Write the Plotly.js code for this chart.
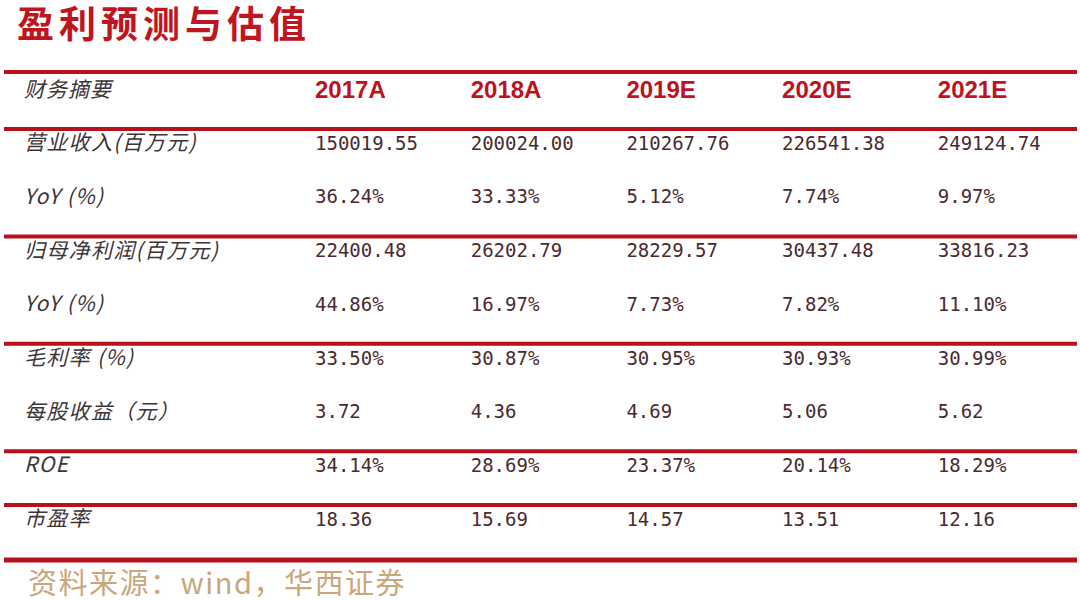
<!DOCTYPE html>
<html>
<head>
<meta charset="utf-8">
<script src="https://cdn.plot.ly/plotly-3.0.1.min.js"></script>
<style>html,body{margin:0;padding:0;background:#fff;}#chart{width:1080px;height:601px;}</style>
</head>
<body>
<div id="chart"></div>
<script>
// ---- data ----
const titleText = '盈利预测与估值';
const headerLabel = '财务摘要';
const years = ['2017A', '2018A', '2019E', '2020E', '2021E'];
const rowLabels = ['营业收入(百万元)', 'YoY (%)', '归母净利润(百万元)', 'YoY (%)', '毛利率 (%)', '每股收益（元）', 'ROE', '市盈率'];
const revenue = [150019.55, 200024.00, 210267.76, 226541.38, 249124.74];
const revenueYoY = [36.24, 33.33, 5.12, 7.74, 9.97];
const netProfit = [22400.48, 26202.79, 28229.57, 30437.48, 33816.23];
const netProfitYoY = [44.86, 16.97, 7.73, 7.82, 11.10];
const grossMargin = [33.50, 30.87, 30.95, 30.93, 30.99];
const eps = [3.72, 4.36, 4.69, 5.06, 5.62];
const roe = [34.14, 28.69, 23.37, 20.14, 18.29];
const pe = [18.36, 15.69, 14.57, 13.51, 12.16];
const rowIsPercent = [false, true, false, true, true, false, true, false];
const groupStarts = [0, 2, 4, 6, 7];
const sourceText = '资料来源：wind，华西证券';

// ---- layout constants ----
const W = 1080, H = 601;
const labelX = 24;
const colX0 = 315, colStep = 155.7;
const headerY = 92, rowY0 = 145, rowStep = 53.7;
const lineX0 = 4, lineX1 = 1077;
const red = '#b5121c';

const rows = [revenue, revenueYoY, netProfit, netProfitYoY, grossMargin, eps, roe, pe];
const colXs = years.map((_, j) => colX0 + j * colStep);
const rowYs = rowLabels.map((_, i) => rowY0 + i * rowStep);
const spaced = (s, px) => '<span style="letter-spacing:' + px + 'px">' + s + '</span>';

// value cells
const vx = [], vy = [], vt = [];
rows.forEach((arr, i) => {
  arr.forEach((v, j) => {
    vx.push(colXs[j]);
    vy.push(rowYs[i]);
    vt.push(v.toFixed(2) + (rowIsPercent[i] ? '%' : ''));
  });
});

const traces = [
  { // header label
    type: 'scatter', mode: 'text', x: [labelX], y: [headerY], text: [spaced(headerLabel, 1)],
    textposition: 'middle right', hoverinfo: 'skip', showlegend: false,
    textfont: { family: 'Noto Sans CJK SC', size: 21, color: '#3c3438', style: 'italic' }
  },
  { // year headers
    type: 'scatter', mode: 'text', x: colXs, y: years.map(() => headerY), text: years,
    textposition: 'middle right', hoverinfo: 'skip', showlegend: false,
    textfont: { family: 'Liberation Sans, Arial', size: 24, color: '#c0121c', weight: 'bold' }
  },
  { // row labels
    type: 'scatter', mode: 'text', x: rowLabels.map(() => labelX), y: rowYs,
    text: rowLabels.map(s => spaced(s, 1.3)),
    textposition: 'middle right', hoverinfo: 'skip', showlegend: false,
    textfont: { family: 'Noto Sans CJK SC', size: 21, color: '#3c3438', style: 'italic' }
  },
  { // values
    type: 'scatter', mode: 'text', x: vx, y: vy, text: vt,
    textposition: 'middle right', hoverinfo: 'skip', showlegend: false,
    textfont: { family: 'DejaVu Sans Mono', size: 19, color: '#4a2a30' }
  }
];

// separator lines
const lineYs = [headerY - 20, rowY0 - 16].concat(groupStarts.slice(1).map(i => rowYs[i] - 16));
lineYs.push(rowYs[rowYs.length - 1] + 39);
const shapes = lineYs.map((y, k) => ({
  type: 'line', xref: 'x', yref: 'y', x0: lineX0, x1: lineX1, y0: y, y1: y,
  line: { color: red, width: (k === lineYs.length - 1) ? 5 : 4 }
}));

const layout = {
  width: W, height: H,
  margin: { l: 0, r: 0, t: 0, b: 0 },
  paper_bgcolor: '#ffffff', plot_bgcolor: '#ffffff',
  xaxis: { range: [0, W], visible: false, fixedrange: true },
  yaxis: { range: [H, 0], visible: false, fixedrange: true },
  shapes: shapes,
  title: {
    text: spaced(titleText, 5), xref: 'paper', yref: 'paper', x: 17 / W, y: 1 - 25 / H,
    xanchor: 'left', yanchor: 'middle',
    font: { family: 'Noto Sans CJK SC', size: 37, color: '#c0141e', weight: 'bold' }
  },
  annotations: [{
    text: spaced(sourceText, 1.5), xref: 'x', yref: 'y', x: labelX + 2, y: 581,
    xanchor: 'left', yanchor: 'middle', showarrow: false,
    font: { family: 'Noto Sans CJK SC', size: 29, color: '#c9a77c' }
  }]
};

Plotly.newPlot('chart', traces, layout, { displayModeBar: false, staticPlot: true });
</script>
</body>
</html>
